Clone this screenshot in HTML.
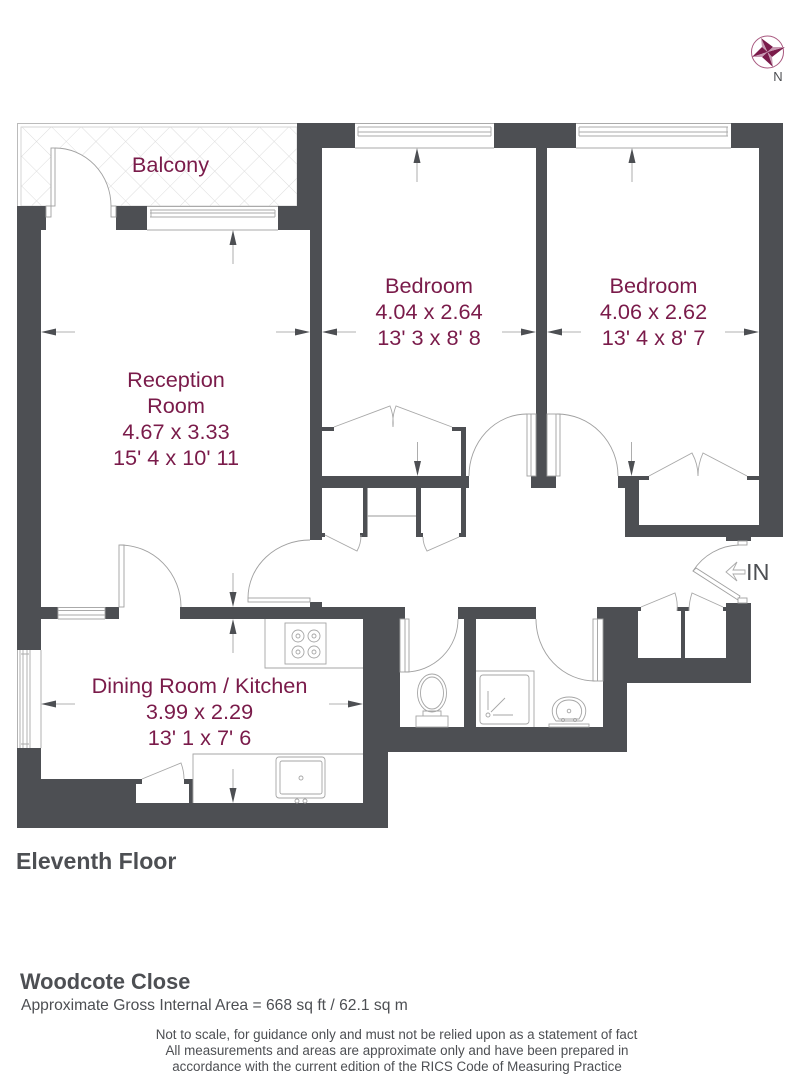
<!DOCTYPE html>
<html><head><meta charset="utf-8"><style>html,body{margin:0;padding:0;background:#fff}svg{display:block}</style></head>
<body>
<svg width="800" height="1080" viewBox="0 0 800 1080" xmlns="http://www.w3.org/2000/svg">
<defs>
<pattern id="h" width="21" height="21" patternUnits="userSpaceOnUse" patternTransform="rotate(45 21 127)">
<path d="M0 0H21M0 0V21" stroke="#dcdcdc" stroke-width="1" fill="none"/>
</pattern>
<g id="ua"><path d="M0 0L-3.5 15H3.5Z" fill="#4d4f53"/><path d="M0 15V34" stroke="#999" stroke-width=".8"/></g>
</defs>
<rect width="800" height="1080" fill="#fff"/>

<!-- balcony -->
<rect x="17.5" y="123.5" width="280" height="83" fill="#fff" stroke="#bbb"/>
<rect x="21" y="127" width="276" height="79" fill="url(#h)" stroke="#ccc" stroke-width=".8"/>
<path d="M53 148A58 58 0 0 1 111 206H53Z" fill="#fff"/>
<rect x="46" y="206" width="70" height="24" fill="#fff"/>

<!-- walls -->
<g fill="#4d4f53">
<rect x="297" y="123" width="58" height="25"/>
<rect x="494" y="123" width="82" height="25"/>
<rect x="731" y="123" width="52" height="25"/>
<rect x="297" y="123" width="25" height="107"/>
<rect x="278" y="206" width="44" height="24"/>
<rect x="310" y="206" width="12" height="334"/>
<rect x="17" y="206" width="29" height="24"/>
<rect x="17" y="206" width="24" height="444"/>
<rect x="116" y="206" width="31" height="24"/>
<rect x="536" y="148" width="11" height="328"/>
<rect x="531" y="476" width="25" height="12"/>
<rect x="759" y="148" width="24" height="389"/>
<rect x="618" y="476" width="21" height="12"/>
<rect x="639" y="476" width="10" height="4"/>
<rect x="747" y="476" width="12" height="4"/>
<rect x="625" y="476" width="14" height="61"/>
<rect x="625" y="525" width="158" height="12"/>
<rect x="322" y="476" width="147" height="12"/>
<rect x="322" y="427" width="12" height="4"/>
<rect x="452" y="427" width="14" height="4"/>
<rect x="461" y="427" width="5" height="49"/>
<rect x="363" y="488" width="4.5" height="49"/>
<rect x="360" y="533" width="7" height="4"/>
<rect x="416" y="488" width="5" height="49"/>
<rect x="416" y="533" width="7" height="4"/>
<rect x="461" y="488" width="5" height="49"/>
<rect x="459" y="533" width="7" height="4"/>
<rect x="322" y="533" width="3" height="4"/>
<rect x="41" y="607" width="17" height="12"/>
<rect x="105" y="607" width="14" height="12"/>
<rect x="180" y="607" width="225" height="12"/>
<rect x="310" y="602" width="12" height="5"/>
<rect x="363" y="619" width="37" height="133"/>
<rect x="363" y="727" width="264" height="25"/>
<rect x="17" y="748" width="24" height="80"/>
<rect x="17" y="803" width="371" height="25"/>
<rect x="41" y="779" width="95" height="24"/>
<rect x="136" y="779" width="6" height="5"/>
<rect x="184" y="779" width="9" height="5"/>
<rect x="189" y="784" width="4" height="19"/>
<rect x="363" y="750" width="25" height="78"/>
<rect x="458" y="607" width="78" height="12"/>
<rect x="464" y="619" width="12" height="108"/>
<rect x="597" y="607" width="41" height="12"/>
<rect x="603" y="619" width="24" height="108"/>
<rect x="627" y="619" width="11" height="64"/>
<rect x="627" y="658" width="124" height="25"/>
<rect x="726" y="603" width="25" height="80"/>
<rect x="681" y="611" width="4" height="47"/>
<rect x="677" y="607" width="12" height="4"/>
<rect x="638" y="607" width="3" height="4"/>
<rect x="723" y="607" width="3" height="4"/>
<rect x="726" y="537" width="25" height="4"/>
</g>

<!-- windows -->
<g fill="none" stroke="#aaa" stroke-width=".9">
<path d="M355 123.5H494M355 148H494M358 127H491M358 132H491M358 136H491M358 127V136M491 127V136"/>
<path d="M576 123.5H731M576 148H731M579 127H728M579 132H728M579 136H728M579 127V136M727 127V136"/>
<path d="M147 206.5H278M147 230H278M150 210H275M150 213H275M150 217H275M151 210V217M275 210V217"/>
<path d="M58 607.500H105M58 619H105M58 610.500H105M58 615H105M58 607V619M105 607V619"/>
<path d="M17.500 650V748M41 650V748M20 650V748M23 650V748M27 650V748M30 650V748M21 654H29M21 744H29"/>
</g>

<!-- doors -->
<g fill="#fff" stroke="#a0a0a0" stroke-width=".9">
<rect x="51" y="148" width="4" height="58"/>
<rect x="46" y="206" width="5" height="11"/>
<rect x="111" y="206" width="5" height="11"/>
<path d="M55 148A56 58 0 0 1 111 206" fill="none"/>
<rect x="527" y="414" width="9" height="62"/>
<path d="M531 414V476" fill="none"/>
<path d="M527 414A58 62 0 0 0 469 476" fill="none"/>
<rect x="547" y="414" width="13" height="62"/>
<path d="M556 414V476" fill="none"/>
<path d="M557 414A61 62 0 0 1 618 476" fill="none"/>
<rect x="119" y="545" width="5" height="62"/>
<path d="M120 545A61 62 0 0 1 181 607" fill="none"/>
<rect x="248" y="598" width="62" height="4"/>
<path d="M310 540A62 58 0 0 0 248 598" fill="none"/>
<rect x="400" y="619" width="9" height="53"/>
<path d="M405 619V672" fill="none"/>
<path d="M405 672A53 53 0 0 0 458 619" fill="none"/>
<rect x="593" y="619" width="10" height="62"/>
<path d="M597.500 619V681" fill="none"/>
<path d="M595 681A59 62 0 0 1 536 619" fill="none"/>
<rect x="738" y="541" width="9" height="4"/>
<path d="M739 545A56 56 0 0 0 693 571" fill="none"/>
<path d="M693 571L696 568L740 596L738 600Z"/>
<rect x="738" y="598" width="9" height="5"/>
</g>

<!-- wardrobe leaves -->
<g fill="none" stroke="#a8a8a8" stroke-width=".9">
<path d="M334 427L390 406Q394 416 393 427M452 427L396 406Q392 416 393 427"/>
<path d="M649 476L692 453Q698 464 698 476M747 476L703 453Q698 464 698 476"/>
<path d="M325 535L357 551Q361 544 361 535M459 537L427 551Q423 544 423 537"/>
<path d="M641 607L675 593Q678 602 677 611M723 607L692 593Q689 602 689 611"/>
<path d="M142 779L181 763Q184 771 184 779"/>
<path d="M367 516H416" stroke="#999"/>
</g>

<!-- kitchen -->
<g fill="none" stroke="#a6a6a6" stroke-width=".9">
<path d="M265 619V668H363"/>
<rect x="285" y="623" width="41" height="41"/>
<circle cx="298" cy="636" r="6"/><circle cx="298" cy="636" r="2"/>
<circle cx="314" cy="636" r="6"/><circle cx="314" cy="636" r="2"/>
<circle cx="298" cy="652" r="6"/><circle cx="298" cy="652" r="2"/>
<circle cx="314" cy="652" r="6"/><circle cx="314" cy="652" r="2"/>
<path d="M193 803V754H363"/>
<rect x="276" y="757" width="49" height="41" rx="3"/>
<rect x="280" y="761" width="42" height="33" rx="2"/>
<circle cx="301" cy="778" r="2"/>
<circle cx="297" cy="801" r="2"/><circle cx="305" cy="801" r="2"/>
</g>

<!-- bathroom fixtures -->
<g fill="none" stroke="#a6a6a6" stroke-width=".9">
<ellipse cx="432" cy="693" rx="14.5" ry="19"/>
<ellipse cx="432" cy="693" rx="11.5" ry="16"/>
<path d="M423 716V711H441V716"/>
<rect x="416" y="716" width="32" height="11"/>
<path d="M476 671H534V727"/>
<rect x="480" y="675" width="49" height="49" rx="3"/>
<circle cx="488" cy="715" r="2"/>
<path d="M488 691V710M491 712L505 698M493 715H513"/>
<rect x="549" y="724" width="40" height="3"/>
<path d="M556 721C548 711 553 697 569 697C585 697 590 711 582 721Z"/>
<path d="M559 719C553 710 558 700 569 700C580 700 585 710 579 719Z"/>
<circle cx="569" cy="711" r="1.8"/><circle cx="563" cy="720" r="1.6"/><circle cx="575" cy="720" r="1.6"/>
</g>

<!-- dimension arrows -->
<use href="#ua" transform="translate(233,230)"/>
<use href="#ua" transform="translate(417,148)"/>
<use href="#ua" transform="translate(632,148)"/>
<use href="#ua" transform="translate(233,619)"/>
<use href="#ua" transform="translate(233,607) rotate(180)"/>
<use href="#ua" transform="translate(417.500,476) rotate(180)"/>
<use href="#ua" transform="translate(631.500,476) rotate(180)"/>
<use href="#ua" transform="translate(233,803) rotate(180)"/>
<use href="#ua" transform="translate(41,332) rotate(-90)"/>
<use href="#ua" transform="translate(310,332) rotate(90)"/>
<use href="#ua" transform="translate(322,332) rotate(-90)"/>
<use href="#ua" transform="translate(536,332) rotate(90)"/>
<use href="#ua" transform="translate(547,332) rotate(-90)"/>
<use href="#ua" transform="translate(759,332) rotate(90)"/>
<use href="#ua" transform="translate(41,704) rotate(-90)"/>
<use href="#ua" transform="translate(363,704) rotate(90)"/>

<!-- IN -->
<path d="M726 572L737 562L733 570H745V574H733L737 581Z" fill="#fff" stroke="#aaa" stroke-width=".9"/>
<text x="746" y="580" font-family="Liberation Sans, sans-serif" font-size="23.500" fill="#4d4f53">IN</text>

<!-- labels -->
<g font-family="Liberation Sans, sans-serif" font-size="21.7" fill="#7a1b4a" text-anchor="middle">
<text x="170.500" y="172">Balcony</text>
<text x="429" y="293">Bedroom</text>
<text x="429" y="319">4.04 x 2.64</text>
<text x="429" y="345">13' 3 x 8' 8</text>
<text x="653.500" y="293">Bedroom</text>
<text x="653.500" y="319">4.06 x 2.62</text>
<text x="653.500" y="345">13' 4 x 8' 7</text>
<text x="176" y="387">Reception</text>
<text x="176" y="413">Room</text>
<text x="176" y="439">4.67 x 3.33</text>
<text x="176" y="465">15' 4 x 10' 11</text>
<text x="199.500" y="693">Dining Room / Kitchen</text>
<text x="199.500" y="719">3.99 x 2.29</text>
<text x="199.500" y="745">13' 1 x 7' 6</text>
</g>
<g font-family="Liberation Sans, sans-serif" fill="#4d4f53">
<text x="16" y="869" font-size="23.100" font-weight="700">Eleventh Floor</text>
<text x="20" y="989" font-size="21.800" font-weight="700">Woodcote Close</text>
<text x="21" y="1010" font-size="15.660">Approximate Gross Internal Area = 668 sq ft / 62.1 sq m</text>
<g font-size="13.400" text-anchor="middle">
<text x="396.500" y="1039">Not to scale, for guidance only and must not be relied upon as a statement of fact</text>
<text x="397" y="1055">All measurements and areas are approximate only and have been prepared in</text>
<text x="397" y="1071">accordance with the current edition of the RICS Code of Measuring Practice</text>
</g>
</g>

<!-- compass -->
<circle cx="767.500" cy="52" r="16" fill="#fff" stroke="#a8587f" stroke-width="1"/>
<path d="M761 38L773 47L767.500 52Z" fill="#7a1b4a"/>
<path d="M761 38L762 47L767.500 52Z" fill="#c79ab2"/>
<path d="M785 47L772 57L767.500 52Z" fill="#7a1b4a"/>
<path d="M785 47L773 47L767.500 52Z" fill="#c79ab2"/>
<path d="M773 67L762 57L767.500 52Z" fill="#7a1b4a"/>
<path d="M773 67L772 57L767.500 52Z" fill="#c79ab2"/>
<path d="M752 57L762 47L767.500 52Z" fill="#7a1b4a"/>
<path d="M752 57L762 57L767.500 52Z" fill="#c79ab2"/>
<text x="778" y="81" font-family="Liberation Sans, sans-serif" font-size="13" fill="#4d4f53" text-anchor="middle">N</text>
</svg>
</body></html>
